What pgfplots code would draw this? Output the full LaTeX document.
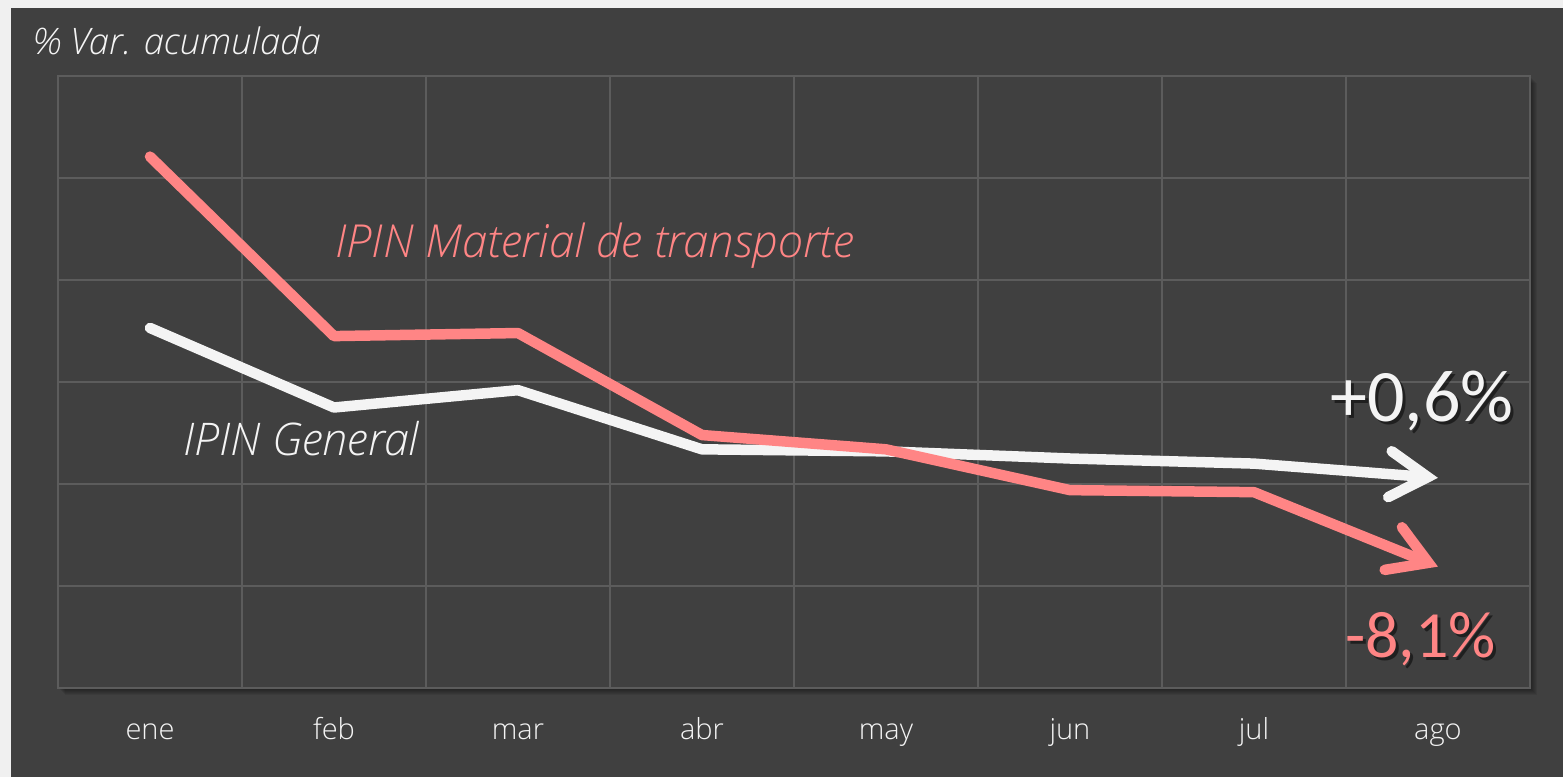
\documentclass[border=0pt]{standalone}
\usepackage{fontspec}
\IfFontExistsTF{Open Sans Light}{%
  \setmainfont{Open Sans Light}[ItalicFont={Open Sans Light Italic}]%
}{%
  \setmainfont{Open Sans}%
}
\newfontfamily\numfont{Carlito}
\usepackage{pgfplots}
\pgfplotsset{compat=1.18}
\usetikzlibrary{arrows.meta}
\definecolor{bgd}{HTML}{404040}
\definecolor{outer}{HTML}{F0F0F0}
\definecolor{gridc}{HTML}{5C5C5C}
\definecolor{zeroc}{HTML}{9E9E9E}
\definecolor{pinkc}{HTML}{FF8585}
\definecolor{txt}{HTML}{F4F4F4}
\begin{document}
\begin{tikzpicture}[x=1pt,y=1pt]
\useasboundingbox (0,0) rectangle (1563,777);
\fill[outer] (0,0) rectangle (1563,777);
\fill[bgd] (11,0) rectangle (1563,769);
\foreach \i in {1,...,7} {\fill[black,opacity=0.07] (58+\i,89-\i) rectangle (1530+\i,701-\i);}
\begin{axis}[at={(58pt,89pt)}, anchor=south west, scale only axis,
  width=1472pt, height=612pt,
  xmin=-0.5, xmax=7.5, ymin=-20, ymax=40,
  axis background/.style={fill=bgd},
  axis line style={draw=gridc, line width=2pt},
  xtick={0,...,7}, xticklabels={ene,feb,mar,abr,may,jun,jul,ago},
  minor xtick={-0.5,0.5,...,7.5}, xminorgrids=true,
  ytick={-20,-10,...,40}, yticklabels={}, ymajorgrids=true,
  major grid style={draw=gridc, line width=1.5pt},
  minor grid style={draw=gridc, line width=1.5pt},
  tick style={draw=none}, minor tick length=0pt, major tick length=0pt,
  extra y ticks={0}, extra y tick labels={},
  extra y tick style={grid style={draw=zeroc, line width=2pt}},
  xticklabel style={anchor=base, yshift=-51pt, font=\fontsize{29}{36}\selectfont, text=txt},
  clip=false,
]
\addplot[txt, line width=10.5pt, line cap=round, line join=round,
  -{Straight Barb[length=38pt, width=46pt, line cap=round]}]
  coordinates {(0,15.3) (1,7.5) (2,9.2) (3,3.4) (4,3.2) (5,2.5) (6,2.0) (7,0.6)};
\addplot[pinkc, line width=10.5pt, line cap=round, line join=round,
  -{Straight Barb[length=38pt, width=46pt, line cap=round]}]
  coordinates {(0,32.1) (1,14.5) (2,14.8) (3,4.8) (4,3.4) (5,-0.6) (6,-0.8) (7,-8.1)};
\end{axis}
\node[anchor=base west, text=txt, font=\fontsize{36.5}{44}\selectfont\itshape, inner sep=0pt] at (33,722) {\% Var. acumulada};
\node[anchor=base west, text=pinkc, font=\fontsize{45.5}{52}\selectfont\itshape, inner sep=0pt] at (335,519) {IPIN Material de transporte};
\node[anchor=base west, text=txt, font=\fontsize{45}{52}\selectfont\itshape, inner sep=0pt] at (183,321) {IPIN General};
\node[anchor=base west, text=black, opacity=0.5, font=\numfont\fontsize{74}{80}\selectfont, inner sep=0pt] at (1333,352) {+0,6\%};
\node[anchor=base west, text=txt, font=\numfont\fontsize{74}{80}\selectfont, inner sep=0pt] at (1330,355) {+0,6\%};
\node[anchor=base west, text=black, opacity=0.5, font=\numfont\fontsize{66}{72}\selectfont, inner sep=0pt] at (1348,117) {-8,1\%};
\node[anchor=base west, text=pinkc, font=\numfont\fontsize{66}{72}\selectfont, inner sep=0pt] at (1345,120) {-8,1\%};
\end{tikzpicture}
\end{document}
